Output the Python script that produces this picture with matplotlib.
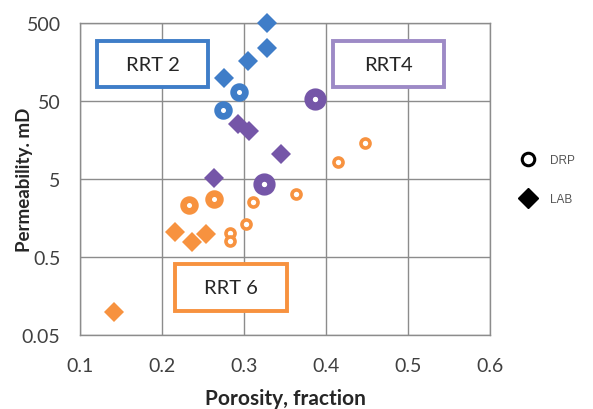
import matplotlib.pyplot as plt
from matplotlib.lines import Line2D
from matplotlib.patches import Rectangle
from matplotlib.ticker import FixedLocator, NullLocator

plt.rcParams['font.family'] = ['Lato', 'DejaVu Sans']

# porosity (fraction) and permeability (mD) per rock type
rrt2_drp_phi = [0.294, 0.274]
rrt2_drp_k = [64.6, 38.3]
rrt2_lab_phi = [0.328, 0.328, 0.305, 0.275]
rrt2_lab_k = [500, 240, 164, 100]

rrt4_drp_phi = [0.386, 0.324]
rrt4_drp_k = [53, 4.3]
rrt4_lab_phi = [0.293, 0.306, 0.345, 0.263]
rrt4_lab_k = [25.4, 20.8, 10.5, 5.1]

rrt6_drp_phi = [0.233, 0.263]
rrt6_drp_k = [2.32, 2.77]
rrt6_drp_small_phi = [0.311, 0.363, 0.415, 0.447, 0.302, 0.283, 0.283]
rrt6_drp_small_k = [2.56, 3.2, 8.2, 14.4, 1.32, 1.01, 0.80]
rrt6_lab_phi = [0.216, 0.236, 0.254, 0.141]
rrt6_lab_k = [1.04, 0.77, 0.99, 0.1]

x_ticks = [0.1, 0.2, 0.3, 0.4, 0.5, 0.6]
y_ticks = [0.05, 0.5, 5, 50, 500]
y_labels = ['0.05', '0.5', '5', '50', '500']

blue = '#3F7DC8'
purple = '#7556A8'
orange = '#F7923F'

fig = plt.figure(figsize=(5.93, 4.10), dpi=100)
ax = fig.add_axes([80 / 593, 74 / 410, 410 / 593, 312 / 410])


def drp(x, y, c, ms, mew):
    ax.plot(x, y, 'o', ls='none', mfc='white', mec=c, ms=ms, mew=mew,
            zorder=3, clip_on=False)


def lab(x, y, c, ms):
    ax.plot(x, y, 'D', ls='none', mfc=c, mec=c, ms=ms, mew=0,
            zorder=3, clip_on=False)


lab(rrt2_lab_phi, rrt2_lab_k, blue, 10.5)
drp(rrt2_drp_phi, rrt2_drp_k, blue, 8.5, 4.8)
lab(rrt4_lab_phi, rrt4_lab_k, purple, 9.8)
drp(rrt4_drp_phi, rrt4_drp_k, purple, 10, 6)
lab(rrt6_lab_phi, rrt6_lab_k, orange, 9.8)
drp(rrt6_drp_phi, rrt6_drp_k, orange, 8.5, 4.8)
drp(rrt6_drp_small_phi, rrt6_drp_small_k, orange, 6.5, 2.6)

ax.set_xlim(0.1, 0.6)
ax.set_yscale('log')
ax.set_ylim(0.05, 500)
ax.xaxis.set_major_locator(FixedLocator(x_ticks))
ax.yaxis.set_major_locator(FixedLocator(y_ticks))
ax.yaxis.set_minor_locator(NullLocator())
ax.set_yticklabels(y_labels)
ax.set_xticklabels([str(t) for t in x_ticks])
ax.tick_params(length=0, labelsize=14, colors='#404040')
ax.tick_params(axis='x', pad=16)
ax.tick_params(axis='y', pad=14)
ax.grid(True, color='#8C8C8C', lw=1)
for s in ax.spines.values():
    s.set_color('#8C8C8C')
    s.set_linewidth(1)

ax.set_xlabel('Porosity, fraction', fontsize=15, fontweight='bold', color='#262626')
ax.xaxis.set_label_coords(0.5, -0.17)
ax.set_ylabel('Permeability. mD', fontsize=13.5, fontweight='bold', color='#262626')
ax.yaxis.set_label_coords(-0.115, 0.5)

# rock type boxes
boxes = [('RRT 2', 0.041, 0.794, blue), ('RRT4', 0.617, 0.794, '#9D8AC6'),
         ('RRT 6', 0.232, 0.078, orange)]
for txt, bx, by, ec in boxes:
    ax.add_patch(Rectangle((bx, by), 0.272, 0.149, transform=ax.transAxes,
                           fill=True, fc='white', ec=ec, lw=2.8, zorder=4))
    ax.text(bx + 0.136, by + 0.0745, txt, transform=ax.transAxes, ha='center',
            va='center', fontsize=14.5, color='#262626', zorder=5)

handles = [Line2D([], [], marker='o', ls='none', mfc='white', mec='black', ms=9, mew=2.2),
           Line2D([], [], marker='D', ls='none', mfc='black', mec='black', ms=10)]
fig.legend(handles, ['DRP', 'LAB'], loc='center left', bbox_to_anchor=(0.853, 0.56),
           frameon=False, prop={'family': 'Liberation Sans', 'size': 8.5},
           labelcolor='#555555', labelspacing=2.3, handletextpad=0.8)

fig.savefig('out.png', dpi=100)
